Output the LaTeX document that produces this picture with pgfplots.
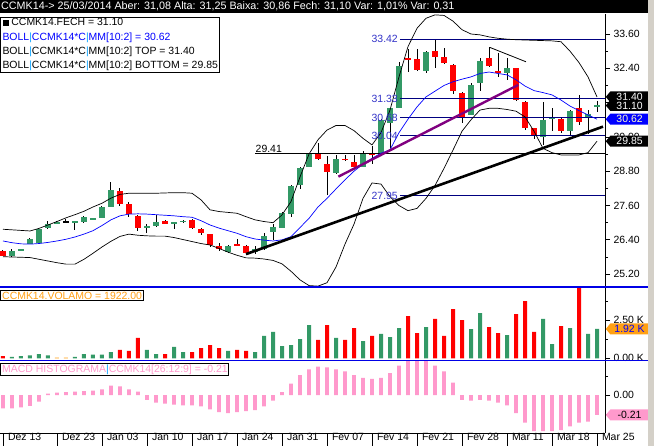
\documentclass[border=0pt]{standalone}
\usepackage{fontspec}
\setmainfont{Liberation Sans}
\usepackage{pgfplots}
\usepackage{pgfplotstable}
\pgfplotsset{compat=1.18}
\usetikzlibrary{shapes.symbols}

\definecolor{cgreen}{RGB}{51,153,102}
\definecolor{cred}{RGB}{255,0,0}
\definecolor{hnavy}{RGB}{0,0,128}
\definecolor{lblue}{RGB}{50,50,200}
\definecolor{cpurple}{RGB}{128,0,128}
\definecolor{cpink}{RGB}{255,153,204}
\definecolor{corange}{RGB}{255,160,20}
\definecolor{pipe}{RGB}{0,160,255}
\definecolor{sepblue}{RGB}{0,0,230}
\definecolor{stripgray}{RGB}{212,208,200}
\definecolor{flagtext}{RGB}{255,255,200}

\newcommand{\fs}{\fontsize{10.5}{12}\selectfont}

\pgfplotsset{
  kred/.style={restrict expr to domain={\thisrow{k}}{-0.5:0.5}},
  kgreen/.style={restrict expr to domain={\thisrow{k}}{0.5:1.5}},
  kdoji/.style={restrict expr to domain={\thisrow{k}}{1.5:2.5}},
  panel/.style={
    scale only axis, width=605bp, xmin=0.667, xmax=67.889,
    axis y line*=right,
    axis line style={black, line width=0.8bp},
    tick style={black, line width=0.8bp},
    major tick length=5bp, minor tick length=3bp,
    tick align=outside,
    tick label style={font=\fs},
    yticklabel style={anchor=west},
    clip mode=individual,
    /pgf/number format/fixed, /pgf/number format/fixed zerofill,
    /pgf/number format/precision=2, /pgf/number format/assume math mode=true,
  },
}
\tikzset{
  flag/.style={signal, signal to=west, signal pointer angle=100, inner sep=0.6bp,
    minimum height=11bp, minimum width=43bp, font=\fs, anchor=west, xshift=0.5bp},
}

\pgfplotstableread{
i O H L C k
1 26.01 26.03 25.83 25.85 0
2 25.84 26.07 25.80 26.00 1
3 26.03 26.08 26.00 26.06 1
4 26.27 26.45 26.25 26.43 1
5 26.29 26.80 26.27 26.78 1
6 26.82 27.07 26.77 26.95 1
7 26.98 27.05 26.96 27.03 1
8 27.02 27.12 27.01 27.02 2
9 27.02 27.05 26.75 27.03 1
10 27.04 27.22 26.98 27.20 1
11 27.13 27.17 27.12 27.16 1
12 27.17 27.57 27.15 27.55 1
13 27.56 28.44 27.54 28.15 1
14 28.11 28.20 27.58 27.66 0
15 27.66 27.73 27.20 27.31 0
16 27.25 27.27 26.71 26.83 0
17 26.82 26.96 26.65 26.89 1
18 26.90 27.26 26.86 27.03 1
19 27.06 27.08 26.95 26.97 0
20 26.99 27.03 26.77 27.01 1
21 27.03 27.10 27.00 27.06 1
22 27.10 27.14 26.79 26.83 0
23 26.78 26.80 26.56 26.63 0
24 26.60 26.62 26.15 26.21 0
25 26.19 26.29 26.00 26.09 0
26 25.99 26.22 25.95 26.20 1
27 26.23 26.43 26.18 26.20 0
28 26.19 26.21 25.92 25.95 0
29 25.99 26.20 25.92 26.08 1
30 26.08 26.65 26.06 26.54 1
31 26.69 26.97 26.40 26.85 1
32 26.83 27.36 26.81 27.34 1
33 27.30 28.31 27.20 28.29 1
34 28.32 28.95 28.17 28.93 1
35 28.96 29.45 28.94 29.43 1
36 29.43 29.77 29.18 29.22 0
37 29.05 29.33 27.96 28.79 0
38 28.73 29.37 28.71 29.23 1
39 29.23 29.36 29.15 29.20 0
40 29.11 29.37 28.92 28.95 0
41 28.96 29.52 28.94 29.40 1
42 29.43 29.68 29.05 29.40 0
43 29.43 30.62 29.40 30.59 1
44 30.50 31.02 29.60 31.00 1
45 31.02 32.62 31.00 32.49 1
46 32.75 33.07 32.28 32.69 0
47 32.73 33.07 32.30 32.34 0
48 32.31 32.99 32.25 32.97 1
49 33.00 33.41 32.42 32.81 0
50 32.81 33.10 32.55 32.60 0
51 32.52 32.55 31.50 31.62 0
52 31.55 31.57 30.50 30.69 0
53 30.77 31.90 30.75 31.82 1
54 31.88 32.77 31.60 32.66 1
55 32.77 33.13 32.45 32.49 0
56 32.29 32.93 32.10 32.26 0
57 32.25 32.75 32.00 32.42 1
58 32.40 32.42 31.25 31.29 0
59 31.22 31.25 30.24 30.32 0
60 30.30 30.32 29.93 30.07 0
61 30.01 31.23 29.72 30.60 1
62 30.63 31.00 30.21 30.67 1
63 30.63 30.70 30.15 30.22 0
64 30.20 30.93 30.07 30.91 1
65 31.00 31.46 30.42 30.53 0
66 30.65 30.94 30.09 30.79 1
67 31.08 31.25 30.86 31.10 1
}\candles

\pgfplotstableread{
i MA TOP BOT
1 26.36 26.77 25.81
2 26.30 26.75 25.80
3 26.26 26.73 25.79
4 26.25 26.71 25.78
5 26.27 26.80 25.72
6 26.31 26.92 25.66
7 26.36 27.04 25.60
8 26.42 27.17 25.55
9 26.50 27.28 25.55
10 26.60 27.40 25.72
11 26.72 27.55 25.93
12 26.90 27.68 26.15
13 27.10 27.86 26.35
14 27.24 27.99 26.52
15 27.30 28.03 26.60
16 27.31 28.03 26.56
17 27.30 28.03 26.54
18 27.28 28.03 26.53
19 27.26 28.04 26.53
20 27.24 28.05 26.48
21 27.21 28.05 26.41
22 27.19 28.03 26.34
23 27.07 27.80 26.27
24 26.92 27.45 26.22
25 26.81 27.39 26.10
26 26.72 27.36 25.97
27 26.63 27.33 25.86
28 26.51 27.21 25.77
29 26.43 27.10 25.76
30 26.39 27.04 25.73
31 26.36 27.00 25.68
32 26.40 27.27 25.56
33 26.51 27.74 25.30
34 26.83 28.60 25.00
35 27.15 29.40 24.80
36 27.55 29.90 24.78
37 27.85 30.24 24.90
38 28.18 30.40 25.45
39 28.50 30.40 26.25
40 28.80 30.22 26.95
41 29.05 29.95 27.85
42 29.25 29.72 28.39
43 29.43 30.15 28.35
44 29.55 30.94 27.91
45 30.15 32.10 27.60
46 30.62 33.16 27.42
47 31.05 33.80 27.50
48 31.40 34.15 27.85
49 31.60 34.27 28.30
50 31.80 34.25 28.90
51 31.93 34.05 29.54
52 32.02 33.75 30.20
53 32.10 33.60 30.60
54 32.22 33.57 30.94
55 32.27 33.50 31.00
56 32.22 33.45 31.00
57 32.17 33.42 30.96
58 32.00 33.40 30.90
59 31.78 33.39 30.70
60 31.62 33.38 30.20
61 31.55 33.37 29.60
62 31.47 33.36 29.45
63 31.29 33.33 29.37
64 31.08 33.00 29.37
65 30.92 32.60 29.37
66 30.77 32.10 29.45
67 30.62 31.40 29.85
}\boll

\pgfplotstableread{
i V k
1 0.15 0
2 0.10 1
3 0.15 1
4 0.20 1
5 0.28 1
6 0.20 1
7 0.04 2
8 0.04 2
9 0.10 1
10 0.28 1
11 0.24 1
12 0.24 1
13 0.40 1
14 0.55 0
15 0.48 0
16 1.33 0
17 0.55 1
18 0.28 1
19 0.28 0
20 0.74 1
21 0.40 1
22 0.40 0
23 0.67 0
24 0.87 0
25 0.67 0
26 0.48 1
27 0.55 0
28 0.48 0
29 0.40 1
30 1.46 1
31 1.72 1
32 0.80 1
33 0.87 1
34 1.26 1
35 2.17 1
36 1.20 0
37 2.17 0
38 1.33 1
39 1.20 0
40 1.98 0
41 1.13 1
42 1.46 0
43 1.59 1
44 1.39 1
45 1.98 1
46 2.76 0
47 1.65 0
48 2.04 1
49 2.57 0
50 1.46 0
51 3.22 0
52 2.50 0
53 1.91 1
54 2.96 1
55 2.04 0
56 1.65 0
57 1.52 1
58 2.89 0
59 3.74 0
60 1.72 0
61 2.57 1
62 0.93 1
63 2.11 0
64 1.98 1
65 4.60 0
66 1.59 1
67 1.92 1
}\volume

\pgfplotstableread{
i M
1 -0.14
2 -0.14
3 -0.13
4 -0.115
5 -0.07
6 0.015
7 0.025
8 0.03
9 0.035
10 0.04
11 0.045
12 0.06
13 0.10
14 0.09
15 0.06
16 0.035
17 -0.05
18 -0.08
19 -0.09
20 -0.10
21 -0.11
22 -0.11
23 -0.12
24 -0.15
25 -0.18
26 -0.19
27 -0.18
28 -0.17
29 -0.16
30 -0.12
31 -0.06
32 0.03
33 0.12
34 0.21
35 0.27
36 0.30
37 0.29
38 0.27
39 0.25
40 0.21
41 0.18
42 0.17
43 0.18
44 0.23
45 0.31
46 0.36
47 0.36
48 0.36
49 0.31
50 0.25
51 0.13
52 -0.05
53 -0.06
54 -0.05
55 -0.06
56 -0.08
57 -0.11
58 -0.19
59 -0.29
60 -0.38
61 -0.38
62 -0.38
63 -0.37
64 -0.33
65 -0.29
66 -0.28
67 -0.21
}\macd

\begin{document}
\begin{tikzpicture}
\path[use as bounding box] (0,0) rectangle (654bp,-446bp);
\fill[white] (0,0) rectangle (654bp,-446bp);

% ---------------- price panel ----------------
\begin{axis}[panel, axis x line=none, at={(0bp,-287bp)}, anchor=south west, height=273bp,
  ymin=24.75, ymax=34.30,
  ytick={25.2,26.4,27.6,28.8,30.0,31.2,32.4,33.6},
  minor ytick={25.8,27.0,28.2,29.4,30.6,31.8,33.0}]
% wicks
\addplot[draw=none, error bars/.cd, y dir=both, y explicit, error mark=none,
  error bar style={draw=black, line width=1bp}]
  table[x=i, y expr={0.5*(\thisrow{H}+\thisrow{L})}, y error expr={0.5*(\thisrow{H}-\thisrow{L})}] {\candles};
% bodies
\addplot[draw=none, kgreen, error bars/.cd, y dir=both, y explicit, error mark=none,
  error bar style={draw=cgreen, line width=6bp}]
  table[x=i, y expr={0.5*(\thisrow{O}+\thisrow{C})}, y error expr={max(0.5*abs(\thisrow{C}-\thisrow{O}),0.03)}] {\candles};
\addplot[draw=none, kred, error bars/.cd, y dir=both, y explicit, error mark=none,
  error bar style={draw=cred, line width=6bp}]
  table[x=i, y expr={0.5*(\thisrow{O}+\thisrow{C})}, y error expr={max(0.5*abs(\thisrow{C}-\thisrow{O}),0.03)}] {\candles};
\addplot[draw=none, kdoji, error bars/.cd, y dir=both, y explicit, error mark=none,
  error bar style={draw=black, line width=6bp}]
  table[x=i, y expr={0.5*(\thisrow{O}+\thisrow{C})}, y error expr={max(0.5*abs(\thisrow{C}-\thisrow{O}),0.03)}] {\candles};
% horizontal levels
\addplot[hnavy, line width=0.9bp] coordinates {(45.1,33.42) (67.889,33.42)};
\addplot[hnavy, line width=0.9bp] coordinates {(45.1,31.33) (67.889,31.33)};
\addplot[hnavy, line width=0.9bp] coordinates {(45.1,30.68) (67.889,30.68)};
\addplot[hnavy, line width=0.9bp] coordinates {(45.1,30.04) (67.889,30.04)};
\addplot[hnavy, line width=0.9bp] coordinates {(45.1,27.95) (67.889,27.95)};
\addplot[black, line width=0.9bp] coordinates {(29.0,29.41) (67.889,29.41)};
% bollinger
\addplot[black, line width=0.7bp] table[x=i,y=TOP] {\boll};
\addplot[black, line width=0.7bp] table[x=i,y=BOT] {\boll};
\addplot[blue, line width=0.7bp] table[x=i,y=MA] {\boll};
% trend lines
\addplot[black, line width=2.6bp] coordinates {(28.0,25.90) (67.67,30.36)};
\addplot[cpurple, line width=2.4bp] coordinates {(38.26,28.61) (58.26,31.82)};
\addplot[black, line width=0.8bp] coordinates {(55.1,33.13) (59.1,32.63)};
% level labels
\node[anchor=east, text=lblue, font=\fs, inner sep=1bp] at (axis cs:45.0,33.42) {33.42};
\node[anchor=east, text=lblue, font=\fs, inner sep=1bp] at (axis cs:45.0,31.33) {31.33};
\node[anchor=east, text=lblue, font=\fs, inner sep=1bp] at (axis cs:45.0,30.68) {30.68};
\node[anchor=east, text=lblue, font=\fs, inner sep=1bp] at (axis cs:45.0,30.04) {30.04};
\node[anchor=east, text=lblue, font=\fs, inner sep=1bp] at (axis cs:45.0,27.95) {27.95};
\node[anchor=south west, text=black, font=\fs, inner sep=0.5bp] at (axis cs:29.0,29.41) {29.41};
% flags
\node[flag, fill=black, text=white] at (axis cs:67.889,31.40) {31.40};
\node[flag, fill=black, text=white] at (axis cs:67.889,31.10) {31.10};
\node[flag, fill=blue, text=flagtext] at (axis cs:67.889,30.62) {30.62};
\node[flag, fill=black, text=white] at (axis cs:67.889,29.85) {29.85};
\end{axis}

% ---------------- volume panel ----------------
\begin{axis}[panel, axis x line=none, at={(0bp,-360bp)}, anchor=south west, height=73bp,
  ymin=-0.11, ymax=4.66,
  ytick={0,2.5}, yticklabels={0.00 K,2.50 K}, minor ytick={1.25,3.75}]
\addplot[ybar, bar width=4bp, bar shift=0pt, fill=cred, draw=none, kred] table[x=i,y=V] {\volume};
\addplot[ybar, bar width=4bp, bar shift=0pt, fill=cgreen, draw=none, kgreen] table[x=i,y=V] {\volume};
\addplot[ybar, bar width=4bp, bar shift=0pt, fill=corange, draw=none, kdoji] table[x=i,y=V] {\volume};
\node[flag, fill=corange, text=blue] at (axis cs:67.889,1.92) {1.92 K};
\end{axis}

% ---------------- MACD panel ----------------
\begin{axis}[panel, axis x line*=bottom, at={(0bp,-433bp)}, anchor=south west, height=72bp,
  ymin=-0.40, ymax=0.358,
  ytick={0}, yticklabels={0.00}, minor ytick={-0.2,0.2},
  xtick={1,7,12,17,22,27,32,37,42,47,52,57,62,67},
  xticklabels={Dez 13,Dez 23,Jan 03,Jan 10,Jan 17,Jan 24,Jan 31,Fev 07,Fev 14,Fev 21,Fev 28,Mar 11,Mar 18,Mar 25},
  x tick style={draw=none},
  xticklabel style={anchor=north west, xshift=1.5bp, yshift=8bp}]
\addplot[ybar, bar width=3.8bp, bar shift=0pt, fill=cpink, draw=none] table[x=i,y=M] {\macd};
\node[flag, fill=cpink, text=black] at (axis cs:67.889,-0.21) {-0.21};
\end{axis}

% date separators in the label row
\foreach \sx in {3,57,102,147,192,237,282,327,372,417,462,507,552,597}{
  \draw[black, line width=0.9bp] (\sx bp,-433bp) -- (\sx bp,-446bp);
}

% separators, header, strip
\draw[sepblue, line width=1.2bp] (0,-287bp) -- (648bp,-287bp);
\draw[sepblue, line width=1.2bp] (0,-360.5bp) -- (648bp,-360.5bp);
\fill[black] (0,0) rectangle (648bp,-13bp);
\node[anchor=west, text=white, font=\fontsize{10.8}{12}\selectfont, inner sep=1bp] at (0bp,-6.5bp)
  {CCMK14-> 25/03/2014 Aber: 31,08 Alta: 31,25 Baixa: 30,86 Fech: 31,10 Var: 1,01\% Var: 0,31};
\fill[stripgray] (648bp,0) rectangle (654bp,-446bp);

% legends
\node[anchor=north west, draw=black, line width=1bp, fill=white, inner sep=1.5bp, align=left,
  font=\fontsize{10.5}{14.3}\selectfont] at (0.5bp,-16.5bp)
  {\rule{6bp}{6bp}\ CCMK14.FECH = 31.10\\
   \textcolor{blue}{BOLL\textcolor{pipe}{|}CCMK14*C\textcolor{pipe}{|}MM[10:2] = 30.62}\\
   BOLL\textcolor{pipe}{|}CCMK14*C\textcolor{pipe}{|}MM[10:2] TOP = 31.40\\
   BOLL\textcolor{pipe}{|}CCMK14*C\textcolor{pipe}{|}MM[10:2] BOTTOM = 29.85};
\node[anchor=north west, draw=black, line width=1bp, fill=white, inner sep=1.2bp, text=corange, font=\fs]
  at (0.5bp,-290bp) {CCMK14.VOLAMO = 1922.00};
\node[anchor=north west, draw=black, line width=1bp, fill=white, inner sep=1.2bp, text=cpink, font=\fs]
  at (0.5bp,-363bp) {MACD HISTOGRAMA\textcolor{pipe}{|}CCMK14[26:12:9] = -0.21};
\end{tikzpicture}
\end{document}
